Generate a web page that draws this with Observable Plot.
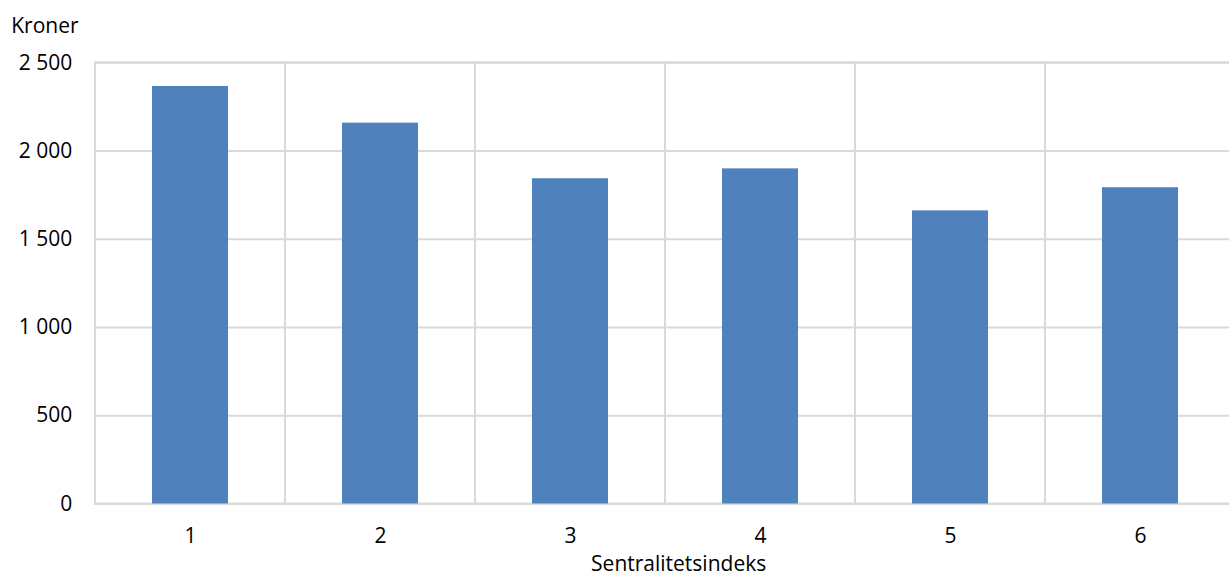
<!DOCTYPE html>
<html>
<head>
<meta charset="utf-8">
<script src="https://cdn.jsdelivr.net/npm/d3@7"></script>
<script src="https://cdn.jsdelivr.net/npm/@observablehq/plot@0.6"></script>
<style>
  html, body { margin: 0; padding: 0; background: #fff; }
  #chart svg { display: block; }
</style>
</head>
<body>
<div id="chart"></div>
<script>
const categories = ["1", "2", "3", "4", "5", "6"];
const values = [2366, 2158, 1843, 1899, 1661, 1792];
const yTicks = [0, 500, 1000, 1500, 2000, 2500];
const yLabel = "Kroner";
const xLabel = "Sentralitetsindeks";

const data = categories.map((c, i) => ({cat: c, value: values[i]}));
const fmt = d => d3.format(",")(d).replace(/,/g, "\u00a0");

const gridColor = "#d9d9d9";
const fs = 21;

const chart = Plot.plot({
  width: 1229,
  height: 577,
  marginLeft: 94.3,
  marginRight: -7,
  marginTop: 62.3,
  marginBottom: 73.5,
  style: {fontFamily: "'Open Sans', sans-serif", fontSize: fs + "px", color: "#000", background: "#fff"},
  x: {type: "band", domain: categories, padding: 0, align: 0.5},
  y: {domain: [0, 2500]},
  marks: [
    Plot.ruleY(yTicks, {stroke: gridColor, strokeWidth: 2}),
    Plot.barY(categories, {x: d => d, y1: 0, y2: 2500, fill: "none", stroke: gridColor, strokeWidth: 2}),
    Plot.barY(data, {x: "cat", y: "value", fill: "#4f81bd", insetLeft: 57, insetRight: 57}),
    Plot.axisY(yTicks, {tickSize: 0, tickPadding: 22.5, tickFormat: fmt, label: null, fontSize: fs}),
    Plot.axisX({tickSize: 0, tickPadding: 24, label: null, fontSize: fs}),
    Plot.text([yLabel], {frameAnchor: "top-left", textAnchor: "start", dx: -83.6, dy: -44.5, fontSize: fs}),
    Plot.text([xLabel], {frameAnchor: "bottom", textAnchor: "middle", dx: 13, dy: 66.5, fontSize: fs})
  ]
});
document.getElementById("chart").appendChild(chart);
</script>
</body>
</html>
